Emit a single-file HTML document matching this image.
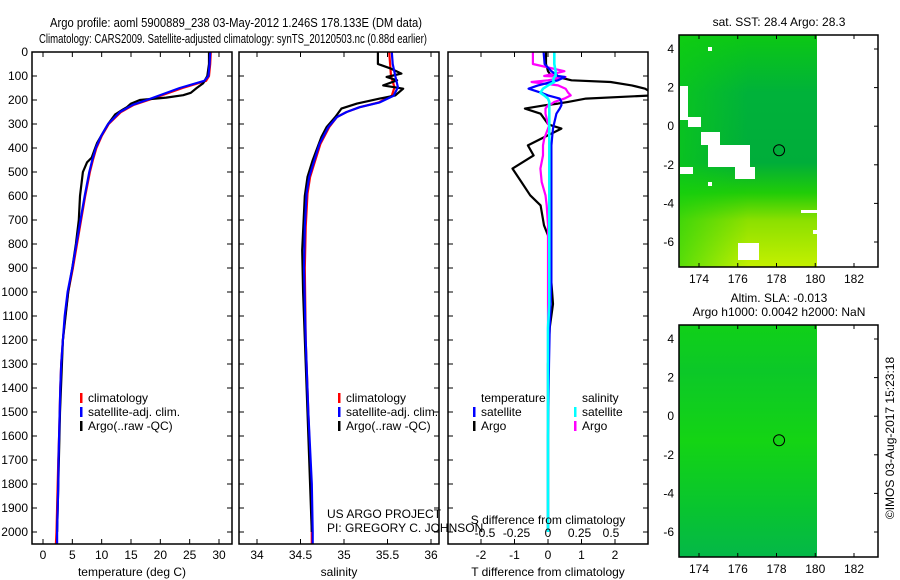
<!DOCTYPE html>
<html><head><meta charset="utf-8"><style>
body{margin:0;background:#fff;}
svg{display:block;font-family:"Liberation Sans",sans-serif;font-size:12px;}
</style></head><body>
<svg id="fig" width="900" height="580" viewBox="0 0 900 580" xmlns="http://www.w3.org/2000/svg">
<defs>
<linearGradient id="sstGrad" x1="0" y1="0" x2="0" y2="1">
<stop offset="0" stop-color="#0cc814"/><stop offset="0.25" stop-color="#00b23a"/><stop offset="0.55" stop-color="#00ad3a"/><stop offset="0.68" stop-color="#20cc08"/><stop offset="0.8" stop-color="#8ce000"/><stop offset="1" stop-color="#c4f000"/>
</linearGradient>
<linearGradient id="sstGradH" x1="0" y1="0" x2="1" y2="0">
<stop offset="0" stop-color="#10d010" stop-opacity="0.6"/><stop offset="0.5" stop-color="#10d010" stop-opacity="0"/>
</linearGradient>
<linearGradient id="slaGrad" x1="0" y1="0" x2="0" y2="1">
<stop offset="0" stop-color="#10d018"/><stop offset="0.2" stop-color="#0cc828"/><stop offset="0.5" stop-color="#14d414"/><stop offset="0.8" stop-color="#08c430"/><stop offset="1" stop-color="#04b848"/>
</linearGradient>
</defs>
<text x="236" y="27" text-anchor="middle" font-size="13" textLength="372" lengthAdjust="spacingAndGlyphs">Argo profile: aoml 5900889_238 03-May-2012 1.246S 178.133E (DM data)</text>
<text x="233" y="43" text-anchor="middle" font-size="13" textLength="388" lengthAdjust="spacingAndGlyphs">Climatology: CARS2009. Satellite-adjusted climatology: synTS_20120503.nc (0.88d earlier)</text>
<g id="p1"></g>
<g id="p2"></g>
<g id="p3"></g>
<g id="m1"></g>
<g id="m2"></g>
<text x="327" y="518" font-size="12">US ARGO PROJECT</text>
<text x="327" y="532" font-size="12">PI: GREGORY C. JOHNSON</text>
<text transform="translate(894,438) rotate(-90)" text-anchor="middle" font-size="12">©IMOS 03-Aug-2017 15:23:18</text>
</svg>
<script>
// ---- data ----
const depthT = [0,50,100,120,150,175,200,220,250,300,350,400,450,500,600,700,800,900,1000,1100,1200,1300,1400,1500,1600,1700,1800,1900,2000,2050];
const tempSat = [28.5,28.4,28.2,27.5,23.3,20.5,17.7,15.3,13.1,11.1,9.9,9.0,8.4,7.9,7.1,6.4,5.7,5.0,4.2,3.7,3.4,3.1,2.95,2.85,2.75,2.65,2.6,2.5,2.4,2.4];
const tempClim = [28.6,28.5,28.3,27.8,23.8,20.9,18.0,15.5,13.3,11.2,10.0,9.1,8.5,8.0,7.2,6.5,5.8,5.1,4.3,3.8,3.4,3.1,2.95,2.85,2.75,2.6,2.5,2.4,2.3,2.2];
const depthTArgo = [0,50,100,130,150,170,180,190,200,215,230,240,260,300,350,380,400,440,460,500,600,700,800,900,1000,1200,1500,1800,2000];
const tempArgo = [28.3,28.3,28.0,27.3,26.2,25.2,23.9,21.0,16.5,15.0,14.3,13.6,12.3,11.1,9.9,9.2,8.9,8.3,7.5,6.8,6.3,6.1,5.6,5.0,4.3,3.4,2.9,2.6,2.4];

const depthS = [0,50,100,147,182,210,230,250,271,313,382,451,521,590,729,900,1200,1500,1800,2000,2050];
const salSat = [35.55,35.56,35.59,35.62,35.57,35.41,35.18,35.03,34.92,34.82,34.72,34.66,34.60,34.57,34.55,34.54,34.56,34.59,34.63,34.64,34.64];
const salClim = [35.52,35.53,35.54,35.58,35.55,35.40,35.18,35.03,34.92,34.83,34.73,34.67,34.61,34.58,34.56,34.55,34.56,34.59,34.62,34.63,34.63];
const depthSArgo = [0,50,68,90,104,118,139,153,181,194,215,236,271,313,354,451,521,600,826,1000,1500,2000];
const salArgo = [35.39,35.39,35.53,35.66,35.49,35.61,35.45,35.68,35.59,35.41,35.15,34.97,34.90,34.80,34.74,34.64,34.58,34.55,34.52,34.53,34.58,34.63];

const depthD = [0,50,80,100,104,118,125,139,153,170,181,194,208,215,222,236,257,300,306,319,361,389,431,486,542,597,639,722,764,850,960,1050,1150,1300,1600,2000];
const tDiffArgo = [-0.06,-0.06,0.0,0.1,0.3,0.7,1.87,2.5,2.9,3.1,3.1,1.13,0.6,0.3,-0.1,-0.69,-0.22,0.0,0.1,0.4,-0.2,-0.6,-0.43,-1.06,-0.79,-0.53,-0.22,-0.12,0.0,0.08,0.1,0.15,0.05,0.0,0.0,0.0];
const tDiffSat = [-0.13,-0.1,0.1,0.3,0.5,0.3,0.1,-0.3,-0.58,-0.2,0.0,0.35,0.4,0.4,0.4,0.35,0.25,0.18,0.17,0.15,0.12,0.1,0.1,0.1,0.1,0.1,0.1,0.1,0.1,0.1,0.1,0.08,0.05,0.03,0.0,0.0];
const sDiffArgo = [-0.12,-0.12,0.13,-0.03,0.14,0.0,-0.13,0.08,0.14,0.16,0.18,0.13,0.05,0.03,0.0,-0.02,-0.02,0.0,0.01,0.0,-0.03,-0.04,-0.04,-0.06,-0.05,-0.02,-0.01,0.0,0.0,0.0,0.0,0.0,0.0,0.0,0.0,0.0];
const sDiffSat = [0.05,0.05,0.06,0.06,0.05,0.04,0.05,0.0,-0.04,-0.06,-0.03,0.0,0.01,0.01,0.01,0.01,0.01,0.01,0.01,0.01,0.01,0.01,0.01,0.01,0.01,0.01,0.01,0.01,0.01,0.01,0.01,0.01,0.0,0.0,0.0,0.0];

const depthTicks = [0,100,200,300,400,500,600,700,800,900,1000,1100,1200,1300,1400,1500,1600,1700,1800,1900,2000];
const tempTicks = [0,5,10,15,20,25,30];
const salTicks = [34,34.5,35,35.5,36];
const tDiffTicks = [-2,-1,0,1,2];
const sDiffTicks = [-0.5,-0.25,0,0.25,0.5];
const latTicks = [4,2,0,-2,-4,-6];
const lonTicks = [174,176,178,180,182];
const argoLon = 178.133, argoLat = -1.246;

// ---- helpers ----
const NS = "http://www.w3.org/2000/svg";
function mk(parent, tag, attrs){const e=document.createElementNS(NS,tag);for(const k in attrs)e.setAttribute(k,attrs[k]);parent.appendChild(e);return e;}
const TOP=52, BOT=544;
const yD = d => TOP + d*0.24;
function lin(d0,d1,r0,r1){return v=>r0+(v-d0)*(r1-r0)/(d1-d0);}

function box(g,x0,x1,y0,y1){
  const r=mk(g,'rect',{x:x0,y:y0,width:x1-x0,height:y1-y0,fill:'none',stroke:'#000','stroke-width':1.5});
  
  
}
function depthTicksDraw(g,x0,x1,labels){
  depthTicks.forEach(d=>{
    const y=yD(d);
    mk(g,'line',{x1:x0,x2:x0+5,y1:y,y2:y,stroke:'#000'});
    mk(g,'line',{x1:x1-5,x2:x1,y1:y,y2:y,stroke:'#000'});
    if(labels){const t=mk(g,'text',{x:x0-4,y:y+4,'text-anchor':'end'});t.textContent=d;
      
      }
  });
}
function xTicks(g,ticks,fx,labels,labY,fmt){
  ticks.forEach(v=>{
    const x=fx(v);
    mk(g,'line',{x1:x,x2:x,y1:BOT,y2:BOT-5,stroke:'#000'});
    mk(g,'line',{x1:x,x2:x,y1:TOP,y2:TOP+5,stroke:'#000'});
    if(labels){const t=mk(g,'text',{x:x,y:labY,'text-anchor':'middle'});t.textContent=fmt?fmt(v):v;
      
      }
  });
}
function line(g,depths,vals,fx,color,name,w){
  const pts=depths.map((d,i)=>fx(vals[i]).toFixed(1)+','+yD(d).toFixed(1)).join(' ');
  const p=mk(g,'polyline',{points:pts,fill:'none',stroke:color,'stroke-width':w||2.2,'stroke-linejoin':'round'});
  
  
}
function legendRow(g,x,y,color,label,name){
  mk(g,'rect',{x:x,y:y-9,width:2.5,height:10,fill:color});
  const t=mk(g,'text',{x:x+8,y:y});t.textContent=label;
  
  
}
function clipRect(id,x0,x1){
  const defs=document.querySelector('defs');
  const c=mk(defs,'clipPath',{id:id});mk(c,'rect',{x:x0,y:TOP,width:x1-x0,height:BOT-TOP});
}

// ---- panel 1: temperature ----
(function(){
  const g=document.getElementById('p1');
  const x0=32,x1=232;
  const fx=lin(0,30,43,219);
  clipRect('c1',x0,x1);
  const lg=mk(g,'g',{'clip-path':'url(#c1)'});
  line(lg,depthT,tempClim,fx,'#ff0000','temp-climatology-line');
  line(lg,depthTArgo,tempArgo,fx,'#000','temp-argo-line');
  line(lg,depthT,tempSat,fx,'#0000ff','temp-satellite-line');
  box(g,x0,x1,TOP,BOT);
  depthTicksDraw(g,x0,x1,true);
  xTicks(g,tempTicks,fx,true,559);
  const t=mk(g,'text',{x:132,y:576,'text-anchor':'middle'});t.textContent='temperature (deg C)';
  
  
  legendRow(g,80,402,'#ff0000','climatology','legend-climatology');
  legendRow(g,80,416,'#0000ff','satellite-adj. clim.','legend-satellite');
  legendRow(g,80,430,'#000','Argo(..raw -QC)','legend-argo');
})();

// ---- panel 2: salinity ----
(function(){
  const g=document.getElementById('p2');
  const x0=239,x1=439;
  const fx=lin(34,36,257,431);
  clipRect('c2',x0,x1);
  const lg=mk(g,'g',{'clip-path':'url(#c2)'});
  line(lg,depthS,salClim,fx,'#ff0000','sal-climatology-line');
  line(lg,depthSArgo,salArgo,fx,'#000','sal-argo-line');
  line(lg,depthS,salSat,fx,'#0000ff','sal-satellite-line');
  box(g,x0,x1,TOP,BOT);
  depthTicksDraw(g,x0,x1,false);
  xTicks(g,salTicks,fx,true,559);
  const t=mk(g,'text',{x:339,y:576,'text-anchor':'middle'});t.textContent='salinity';
  
  
  legendRow(g,338,402,'#ff0000','climatology','legend-climatology');
  legendRow(g,338,416,'#0000ff','satellite-adj. clim.','legend-satellite');
  legendRow(g,338,430,'#000','Argo(..raw -QC)','legend-argo');
})();

// ---- panel 3: differences ----
(function(){
  const g=document.getElementById('p3');
  const x0=448,x1=648;
  const fxT=lin(0,1,548,581.5);
  const fxS=lin(0,1,548,674);
  clipRect('c3',x0,x1);
  const lg=mk(g,'g',{'clip-path':'url(#c3)'});
  line(lg,depthD,tDiffArgo,fxT,'#000','tdiff-argo-line');
  line(lg,depthD,sDiffArgo,fxS,'#ff00ff','sdiff-argo-line');
  line(lg,depthD,tDiffSat,fxT,'#0000ff','tdiff-satellite-line');
  line(lg,depthD,sDiffSat,fxS,'#00ffff','sdiff-satellite-line',2.6);
  box(g,x0,x1,TOP,BOT);
  depthTicksDraw(g,x0,x1,false);
  xTicks(g,tDiffTicks,fxT,true,559);
  sDiffTicks.forEach(v=>{
    const t=mk(g,'text',{x:fxS(v),y:537,'text-anchor':'middle'});t.textContent=v;
    
    
  });
  let t=mk(g,'text',{x:548,y:524,'text-anchor':'middle'});t.textContent='S difference from climatology';
  
  
  t=mk(g,'text',{x:548,y:576,'text-anchor':'middle'});t.textContent='T difference from climatology';
  
  
  t=mk(g,'text',{x:481,y:402});t.textContent='temperature';
  
  
  t=mk(g,'text',{x:582,y:402});t.textContent='salinity';
  
  
  legendRow(g,473,416,'#0000ff','satellite','legend-t-satellite');
  legendRow(g,473,430,'#000','Argo','legend-t-argo');
  legendRow(g,574,416,'#00ffff','satellite','legend-s-satellite');
  legendRow(g,574,430,'#ff00ff','Argo','legend-s-argo');
})();

// ---- maps ----
function map(gid,y0,y1,lat4y,fill,holes,titles){
  const g=document.getElementById(gid);
  const x0=679,x1=878;
  const fLon=lin(174,182,699,854);
  const fLat=lin(4,-6,lat4y,lat4y+193);
  mk(g,'rect',{x:x0,y:y0,width:817-x0,height:y1-y0,fill:fill});
  if(gid==='m1') mk(g,'rect',{x:x0,y:y0,width:817-x0,height:y1-y0,fill:'url(#sstGradH)'});
  holes.forEach(h=>mk(g,'rect',{x:h[0],y:h[1],width:h[2],height:h[3],fill:'#fff'}));
  const c=mk(g,'circle',{cx:fLon(argoLon),cy:fLat(argoLat),r:5.5,fill:'none',stroke:'#000','stroke-width':1});
  
  
  const r=mk(g,'rect',{x:x0,y:y0,width:x1-x0,height:y1-y0,fill:'none',stroke:'#000','stroke-width':1.5});
  
  
  latTicks.forEach(v=>{
    const y=fLat(v);
    mk(g,'line',{x1:x1,x2:x1-4,y1:y,y2:y,stroke:'#000'});
    const t=mk(g,'text',{x:674,y:y+4,'text-anchor':'end'});t.textContent=v;
    
    
  });
  lonTicks.forEach(v=>{
    const x=fLon(v);
    mk(g,'line',{x1:x,x2:x,y1:y0,y2:y0+4,stroke:'#000'});
    mk(g,'line',{x1:x,x2:x,y1:y1,y2:y1-4,stroke:'#000'});
    const t=mk(g,'text',{x:x,y:y1+16,'text-anchor':'middle'});t.textContent=v;
    
    
  });
  titles.forEach(tt=>{
    const t=mk(g,'text',{x:779,y:tt[1],'text-anchor':'middle'});t.textContent=tt[0];
    
    
  });
}
map('m1',35,267,49,'url(#sstGrad)',
  [[680,86,8,34],[688,117,13,10],[701,132,19,13],[708,145,42,22],[735,167,20,12],[680,167,13,7],[708,182,4,4],[738,243,21,17],[708,47,4,4],[801,210,16,3],[813,230,4,4]],
  [['sat. SST: 28.4  Argo: 28.3',26]]);
map('m2',325,557,339,'url(#slaGrad)',[],
  [['Altim. SLA: -0.013',302],['Argo h1000: 0.0042 h2000: NaN',316]]);
</script>
</body></html>
